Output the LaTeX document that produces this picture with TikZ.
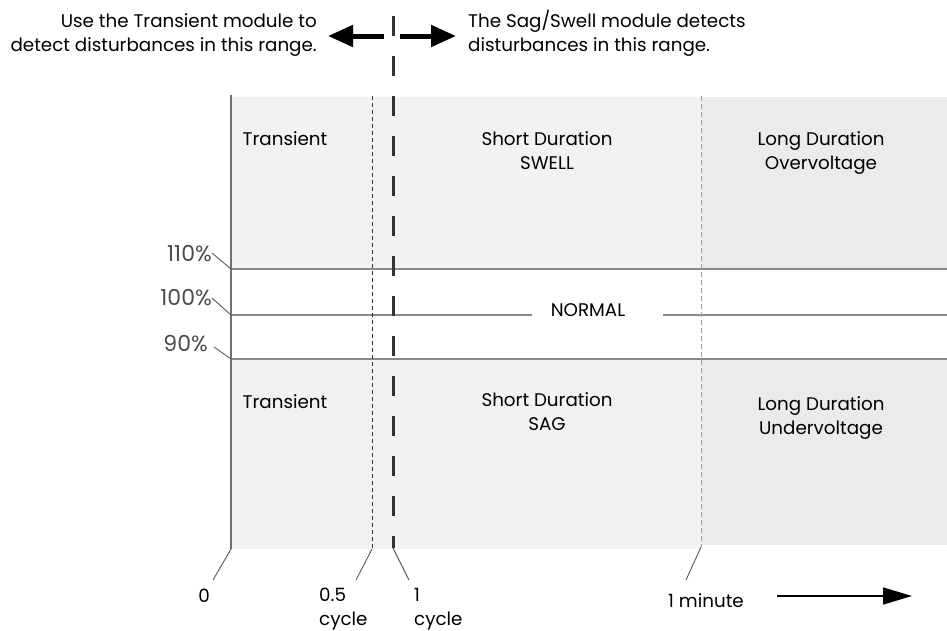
\documentclass[tikz,border=0pt]{standalone}
\usepackage{fontspec}
\setmainfont{Poppins}
\usetikzlibrary{arrows.meta}
\definecolor{shadeA}{HTML}{F1F2F4}
\definecolor{shadeB}{HTML}{EBEBEB}
\definecolor{lineg}{HTML}{8A8A8A}
\definecolor{axisg}{HTML}{707070}
\tikzset{
  lbl/.style={font=\fontsize{18.3}{24}\selectfont, text=black, align=center, inner sep=0pt},
  toplbl/.style={font=\fontsize{18.3}{24}\selectfont, text=black, inner sep=0pt},
  pct/.style={font=\fontsize{22}{24}\selectfont, text=black!70, inner sep=0pt},
  hline/.style={draw=lineg, line width=1.3pt},
  tick/.style={draw=black!65, line width=0.9pt},
  bigarrow/.style={line width=5pt, -{Triangle[length=25pt,width=21pt]}},
}
\begin{document}
\begin{tikzpicture}[x=1pt,y=-1pt]
\useasboundingbox (0,0) rectangle (947,630);
% shaded regions
\fill[shadeA] (231,97) rectangle (701,269);
\fill[shadeB] (701,97) rectangle (947,269);
\fill[shadeA] (231,359) rectangle (701,549);
\fill[shadeB] (701,359) rectangle (947,545);
% coordinates
\coordinate (ax0) at (231,95);
\coordinate (ax1) at (231,549);
\coordinate (p110) at (231,269);
\coordinate (p100) at (231,315);
\coordinate (p90) at (231,359);
\coordinate (e110) at (947,269);
\coordinate (e100) at (947,315);
\coordinate (e90) at (947,359);
% horizontal lines
\draw[hline] (p110) -- (e110);
\draw[hline] (p90) -- (e90);
\node[lbl, anchor=base] (normal) at (588,316) {NORMAL};
\coordinate (n1) at (532,315);
\coordinate (n2) at (663,315);
\draw[hline] (p100) -- (n1);
\draw[hline] (n2) -- (e100);
% axis
\draw[draw=axisg, line width=2.6pt] (ax0) -- (ax1);
% half-cycle dashed
\coordinate (hc0) at (372,96);
\coordinate (hc1) at (372,549);
\draw[draw=black!80, line width=0.8pt, dash pattern=on 4pt off 3pt] (hc0) -- (hc1);
% one minute dashed
\coordinate (mn0) at (701,96);
\coordinate (mn1) at (701,547);
\draw[draw=lineg!80, line width=0.9pt, dash pattern=on 5pt off 3pt] (mn0) -- (mn1);
% one cycle thick dashed
\coordinate (oc0) at (393,16);
\coordinate (oc1) at (393,548);
\draw[draw=black!80, line width=3pt, dash pattern=on 20pt off 20pt] (oc0) -- (oc1);
% top arrows
\coordinate (la0) at (384,36);
\coordinate (la1) at (328,36);
\coordinate (ra0) at (400,36);
\coordinate (ra1) at (456,36);
\draw[bigarrow] (la0) -- (la1);
\draw[bigarrow] (ra0) -- (ra1);
% top texts
\node[toplbl, anchor=base east, align=right] (tl) at (317,51) {Use the Transient module to\\detect disturbances in this range.};
\node[toplbl, anchor=base west, align=left] (tr) at (468,51) {The Sag/Swell module detects\\disturbances in this range.};
% region labels
\node[lbl, anchor=base] (tr1) at (285,145) {Transient};
\node[lbl, anchor=base] (sw) at (547,169) {Short Duration\\SWELL};
\node[lbl, anchor=base] (ov) at (821,169) {Long Duration\\Overvoltage};
\node[lbl, anchor=base] (tr2) at (285,408) {Transient};
\node[lbl, anchor=base] (sg) at (547,430) {Short Duration\\SAG};
\node[lbl, anchor=base] (uv) at (821,434) {Long Duration\\Undervoltage};
% percentage labels
\node[pct, anchor=base east] (l110) at (212,261) {110\%};
\node[pct, anchor=base east] (l100) at (212,305) {100\%};
\node[pct, anchor=base east] (l90) at (208,351) {90\%};
\coordinate (t110) at (212,253);
\coordinate (t100) at (212,298);
\coordinate (t90) at (214,347);
\draw[tick] (t110) -- (p110);
\draw[tick] (t100) -- (p100);
\draw[tick] (t90) -- (p90);
% bottom labels
\node[lbl, anchor=base] (z) at (204,602) {0};
\node[lbl, anchor=base west, align=left] (hcl) at (319,625) {0.5\\cycle};
\node[lbl, anchor=base west, align=left] (ocl) at (414,625) {1\\cycle};
\node[lbl, anchor=base] (mnl) at (706,607) {1 minute};
\coordinate (tz) at (213,580);
\coordinate (thc) at (356,580);
\coordinate (toc) at (409,580);
\coordinate (tmn) at (686,580);
\draw[tick] (ax1) -- (tz);
\draw[tick] (hc1) -- (thc);
\draw[tick] (oc1) -- (toc);
\draw[tick] (mn1) -- (tmn);
% time arrow
\coordinate (ta0) at (777,596);
\coordinate (ta1) at (912,596);
\draw[line width=1.5pt, -{Triangle[length=29pt,width=17pt]}] (ta0) -- (ta1);
\end{tikzpicture}
\end{document}
